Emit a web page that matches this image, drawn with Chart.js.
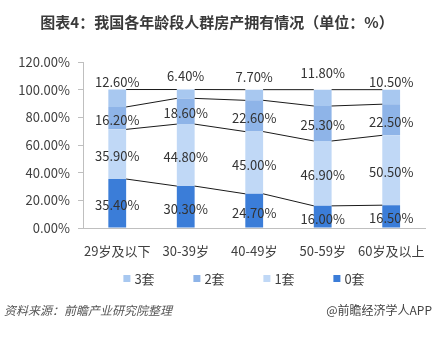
<!DOCTYPE html>
<html>
<head>
<meta charset="utf-8">
<script src="https://cdn.jsdelivr.net/npm/chart.js@4.4.1/dist/chart.umd.min.js"></script>
<style>
  html, body { margin: 0; padding: 0; background: #fff; }
  #wrap { position: relative; width: 440px; height: 338px; }
</style>
</head>
<body>
<div id="wrap"><canvas id="chart" width="440" height="338"></canvas></div>
<script>
const categories = ["29岁及以下", "30-39岁", "40-49岁", "50-59岁", "60岁及以上"];
const seriesNames = ["0套", "1套", "2套", "3套"];
const zeroHomes = [35.4, 30.3, 24.7, 16.0, 16.5];
const oneHome = [35.9, 44.8, 45.0, 46.9, 50.5];
const twoHomes = [16.2, 18.6, 22.6, 25.3, 22.5];
const threeHomes = [12.6, 6.4, 7.7, 11.8, 10.5];
const yTicks = [0, 20, 40, 60, 80, 100, 120];

const titleText = "图表4：我国各年龄段人群房产拥有情况（单位：%）";
const sourceText = "资料来源：前瞻产业研究院整理";
const brandText = "@前瞻经济学人APP";

const FONT = "'Noto Sans CJK SC', 'Liberation Sans', sans-serif";
const colors = ["#3b7dd8", "#c0d8f6", "#8eb4e8", "#a8c8f0"];

// lift of the top-row labels above the stack (they sit over the bar tops)
const topLabelLift = [7, 13, 13, 17, 8];

// series lines joining segment tops between neighbouring bars, plus labels
const barExtras = {
  id: "barExtras",
  afterDatasetsDraw(chart) {
    const ctx = chart.ctx;
    const metas = chart.data.datasets.map((d, i) => chart.getDatasetMeta(i));

    ctx.save();
    ctx.strokeStyle = "#1a1a1a";
    ctx.lineWidth = 1;
    metas.forEach((meta) => {
      for (let j = 0; j < meta.data.length - 1; j++) {
        const a = meta.data[j];
        const b = meta.data[j + 1];
        ctx.beginPath();
        ctx.moveTo(a.x + a.width / 2, a.y);
        ctx.lineTo(b.x - b.width / 2, b.y);
        ctx.stroke();
      }
    });

    ctx.font = "13px " + FONT;
    ctx.fillStyle = "#333";
    ctx.textAlign = "center";
    ctx.textBaseline = "middle";
    metas.forEach((meta, i) => {
      const values = chart.data.datasets[i].data;
      meta.data.forEach((el, j) => {
        const text = values[j].toFixed(2) + "%";
        let y = (el.y + el.base) / 2 + 2;
        if (i === metas.length - 1) y = el.y - topLabelLift[j];
        ctx.fillText(text, el.x, y);
      });
    });
    ctx.restore();
  },
  afterDraw(chart) {
    const ctx = chart.ctx;
    ctx.save();

    ctx.font = "bold 15px " + FONT;
    ctx.fillStyle = "#3a3a3a";
    ctx.textAlign = "center";
    ctx.textBaseline = "middle";
    ctx.fillText(titleText, 217, 22);

    // legend, listed top series first
    ctx.font = "13px " + FONT;
    ctx.textAlign = "left";
    const order = [3, 2, 1, 0];
    const stride = 70;
    const itemW = 7 + 4 + ctx.measureText(seriesNames[0]).width;
    let x = 244 - (stride * (order.length - 1) + itemW) / 2;
    order.forEach((i) => {
      ctx.fillStyle = colors[i];
      ctx.fillRect(x, 275, 7, 7);
      ctx.fillStyle = "#404040";
      ctx.fillText(seriesNames[i], x + 11, 279);
      x += stride;
    });

    ctx.font = "italic 12px " + FONT;
    ctx.fillStyle = "#555";
    ctx.fillText(sourceText, 4, 310);
    ctx.font = "12px " + FONT;
    ctx.fillStyle = "#444";
    ctx.textAlign = "right";
    ctx.fillText(brandText, 432, 310);
    ctx.restore();
  }
};

const datasetValues = [zeroHomes, oneHome, twoHomes, threeHomes];

new Chart(document.getElementById("chart"), {
  type: "bar",
  data: {
    labels: categories,
    datasets: datasetValues.map((vals, i) => ({
      label: seriesNames[i],
      data: vals,
      backgroundColor: colors[i],
      borderWidth: 0,
      categoryPercentage: 1,
      barPercentage: 0.26
    }))
  },
  options: {
    responsive: false,
    animation: false,
    devicePixelRatio: 1,
    layout: { padding: { left: 0, right: 6, top: 62, bottom: 0 } },
    plugins: {
      legend: { display: false },
      title: { display: false },
      tooltip: { enabled: false }
    },
    scales: {
      x: {
        stacked: true,
        grid: { display: false, drawTicks: false },
        border: { display: true, color: "#bfbfbf" },
        ticks: {
          color: "#404040",
          font: { family: FONT, size: 13 },
          padding: 15,
          maxRotation: 0,
          autoSkip: false
        },
        afterFit: (s) => { s.height = 110; }
      },
      y: {
        stacked: true,
        min: 0,
        max: 120,
        afterBuildTicks: (s) => { s.ticks = yTicks.map((v) => ({ value: v })); },
        grid: { drawOnChartArea: false, drawTicks: true, tickLength: 5, color: "#bfbfbf" },
        border: { display: true, color: "#bfbfbf" },
        ticks: {
          color: "#404040",
          font: { family: FONT, size: 13 },
          padding: 8,
          callback: (v) => v.toFixed(2) + "%"
        },
        afterFit: (s) => { s.width = 83; }
      }
    }
  },
  plugins: [barExtras]
});
</script>
</body>
</html>
